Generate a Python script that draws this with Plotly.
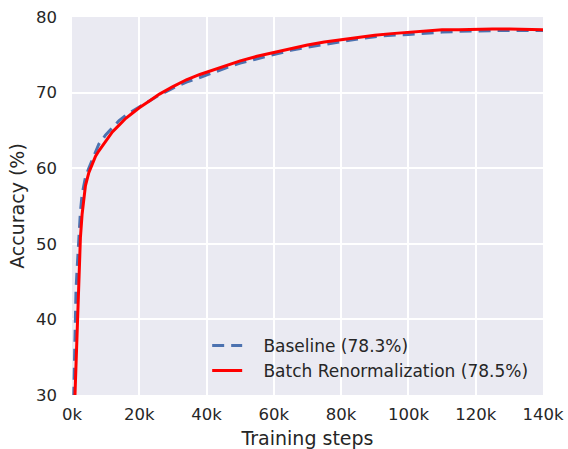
import plotly.graph_objects as go

steps = [500, 800, 1200, 1500, 2000, 2500, 3000, 4000, 5000, 6000, 7000, 8000, 10000,
         12000, 14000, 16000, 18000, 20000, 23000, 26000, 30000, 34000, 38000,
         42000, 46000, 50000, 55000, 60000, 65000, 70000, 75000, 80000, 85000,
         90000, 95000, 100000, 105000, 110000, 115000, 120000, 125000, 130000,
         135000, 140000]

baseline = [29.5, 36.8, 43.9, 46.5, 50.7, 54.2, 56.5, 58.8, 60.0, 61.1, 62.3, 63.2, 64.4,
            65.4, 66.3, 67.0, 67.6, 68.1, 68.9, 69.7, 70.6, 71.4, 72.0,
            72.7, 73.3, 73.9, 74.5, 75.0, 75.6, 76.0, 76.4, 76.8, 77.1,
            77.4, 77.6, 77.7, 77.9, 78.0, 78.1, 78.2, 78.2, 78.2,
            78.2, 78.2]

batch_renorm = [25.0, 29.0, 35.5, 40.3, 45.8, 50.8, 53.9, 57.7, 59.4, 60.65, 61.6, 62.3, 63.6,
                64.8, 65.7, 66.6, 67.3, 68.0, 68.9, 69.8, 70.8, 71.7, 72.4,
                73.0, 73.6, 74.2, 74.8, 75.3, 75.9, 76.3, 76.7, 77.0, 77.3,
                77.6, 77.8, 78.0, 78.1, 78.3, 78.3, 78.4, 78.4, 78.4,
                78.4, 78.3]

x_ticks = [0, 20000, 40000, 60000, 80000, 100000, 120000, 140000]
x_tick_labels = ["0k", "20k", "40k", "60k", "80k", "100k", "120k", "140k"]
y_ticks = [30, 40, 50, 60, 70, 80]

font_color = "#262626"
pad = "\u00a0\u00a0\u00a0"

fig = go.Figure()
fig.add_trace(go.Scatter(
    x=steps, y=baseline, mode="lines", name=pad + "Baseline (78.3%)",
    line=dict(color="#4C72B0", width=3, dash="12px,7px"),
))
fig.add_trace(go.Scatter(
    x=steps, y=batch_renorm, mode="lines", name=pad + "Batch Renormalization (78.5%)",
    line=dict(color="#FF0000", width=3),
))

fig.update_layout(
    width=568, height=449,
    margin=dict(l=72, r=25, t=17, b=54),
    paper_bgcolor="white",
    plot_bgcolor="#EAEAF2",
    font=dict(family="DejaVu Sans", size=16.5, color=font_color),
    showlegend=True,
    legend=dict(
        x=0.287, y=0.016, xanchor="left", yanchor="bottom",
        bgcolor="rgba(0,0,0,0)", font=dict(size=17, color=font_color),
        tracegroupgap=0,
    ),
)
fig.update_xaxes(
    range=[0, 140000], tickvals=x_ticks, ticktext=x_tick_labels,
    showgrid=True, gridcolor="white", gridwidth=1.5, zeroline=False,
    showline=False, ticks="", ticklabelstandoff=7, automargin=False,
    title=dict(text="Training steps", font=dict(size=19), standoff=9),
)
fig.update_yaxes(
    range=[30, 80], tickvals=y_ticks,
    showgrid=True, gridcolor="white", gridwidth=1.5, zeroline=False,
    showline=False, ticks="", ticklabelstandoff=14, automargin=False,
    title=dict(text="Accuracy (%)", font=dict(size=19), standoff=6),
)

fig.write_html("out.html", config={"displayModeBar": False},
               post_script="document.body.style.margin='0';")
